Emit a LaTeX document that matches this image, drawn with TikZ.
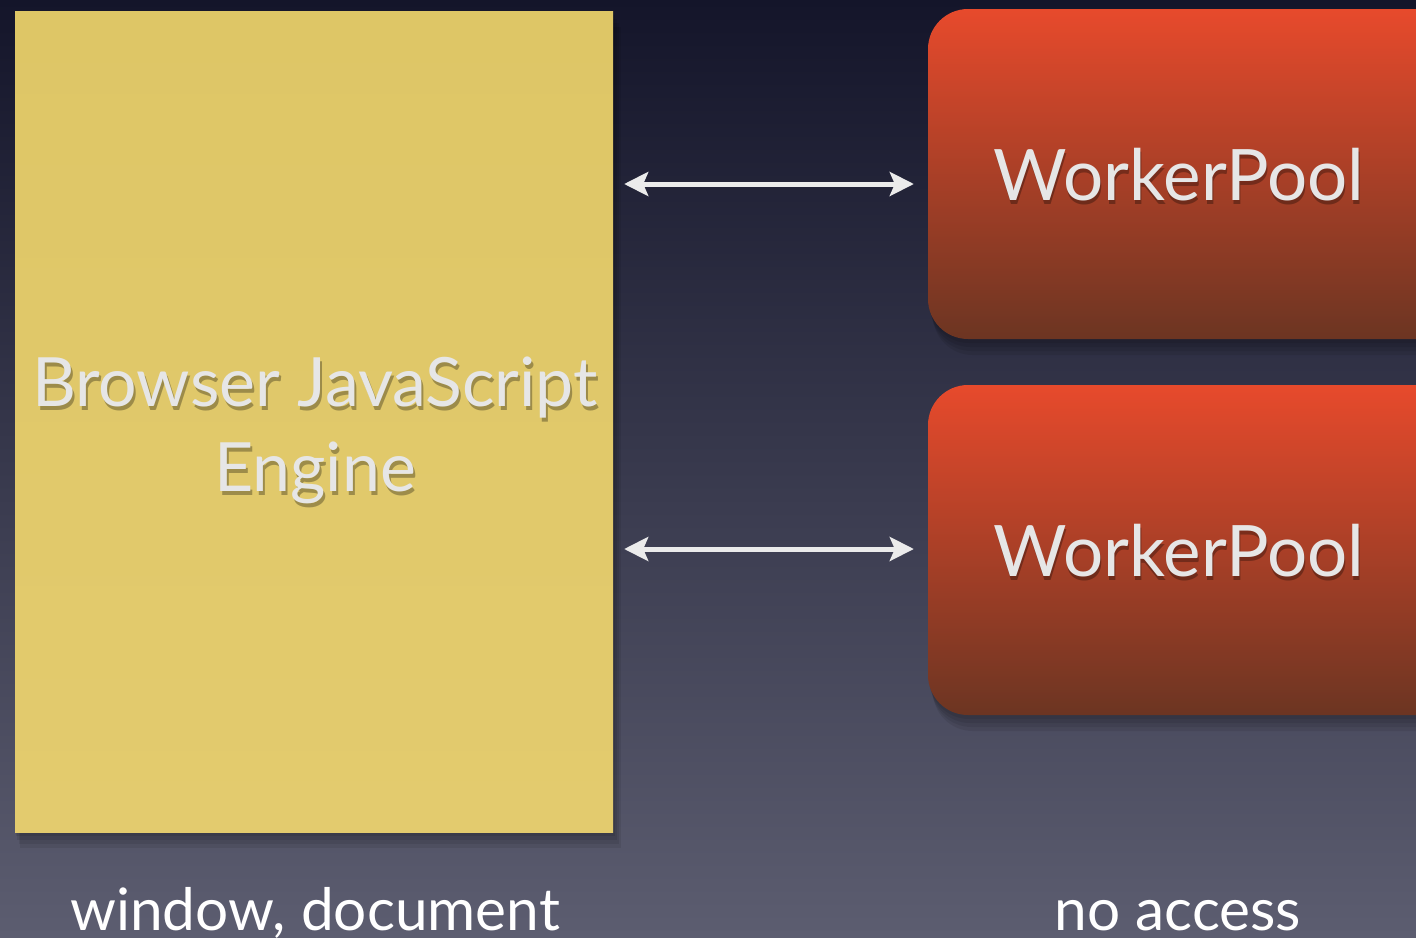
\documentclass[tikz,border=0pt]{standalone}
\usepackage{fontspec}
\setmainfont{Lato}
\usetikzlibrary{arrows.meta}
\definecolor{bgtop}{HTML}{14152A}
\definecolor{bgbot}{HTML}{5C5D70}
\definecolor{paper}{HTML}{DEC666}
\definecolor{paperlt}{HTML}{E3CB6E}
\definecolor{redtop}{HTML}{E74A2C}
\definecolor{redbot}{HTML}{6C3522}
\definecolor{txt}{HTML}{E6E6E6}
\tikzset{
  lbl/.style={text=txt, font=\fontsize{71}{85}\selectfont, align=center},
  lblshadow/.style={text=black, opacity=0.3, font=\fontsize{71}{85}\selectfont, align=center},
  englbl/.style={font=\fontsize{68}{85}\selectfont},
  bottomlbl/.style={text=white, font=\fontsize{58.5}{62}\selectfont},
  link/.style={draw=white!92!black, line width=5pt, {Stealth[length=24pt,width=24pt,inset=5pt]}-{Stealth[length=24pt,width=24pt,inset=5pt]}, shorten <=11pt, shorten >=14pt},
  poolbox/.style={rounded corners=40pt, top color=redtop, bottom color=redbot, draw=none},
}
\begin{document}
\begin{tikzpicture}[x=1pt,y=-1pt]
\useasboundingbox (0,0) rectangle (1416,937);
\shade[top color=bgtop, bottom color=bgbot] (0,0) rectangle (1416,937);
% shadows
\foreach \o in {4,8,12,16}{
  \fill[black, opacity=0.08] (15+\o*0.3,11+\o) rectangle (613+\o*0.5,832+\o);
  \fill[black, opacity=0.08, rounded corners=40pt] (928+\o*0.3,9+\o) rectangle (1460,339+\o);
  \fill[black, opacity=0.08, rounded corners=40pt] (928+\o*0.3,385+\o) rectangle (1460,715+\o);
}
% engine
\shade[top color=paper, bottom color=paperlt] (15,11) rectangle (613,832);
\node[inner sep=0, minimum width=598pt, minimum height=821pt] (engine) at (314,421.5) {};
% pools
\begin{scope}
\clip (0,0) rectangle (1416,937);
\path[poolbox] (928,9) rectangle (1460,339);
\path[poolbox] (928,385) rectangle (1460,715);
\end{scope}
\node[inner sep=0, minimum width=488pt, minimum height=330pt] (pool1) at (1172,174) {};
\node[inner sep=0, minimum width=488pt, minimum height=330pt] (pool2) at (1172,550) {};
% labels
\node[lblshadow, englbl] at (317,434) {Browser JavaScript\\Engine};
\node[lbl, englbl] (engtxt) at (315,430) {Browser JavaScript\\Engine};
\node[lblshadow] at (1180,179) {WorkerPool};
\node[lbl] (p1txt) at (1179,175) {WorkerPool};
\node[lblshadow] at (1180,555) {WorkerPool};
\node[lbl] (p2txt) at (1179,551) {WorkerPool};
% connectors
\coordinate (e1) at (engine.east |- 0,184);
\coordinate (w1) at (pool1.west |- 0,184);
\coordinate (e2) at (engine.east |- 0,549);
\coordinate (w2) at (pool2.west |- 0,549);
\draw[link] (e1) -- (w1);
\draw[link] (e2) -- (w2);
% bottom labels
\node[bottomlbl, anchor=base] (win) at (315,930) {window, document};
\node[bottomlbl, anchor=base] (noacc) at (1178,930) {no access};
\end{tikzpicture}
\end{document}
